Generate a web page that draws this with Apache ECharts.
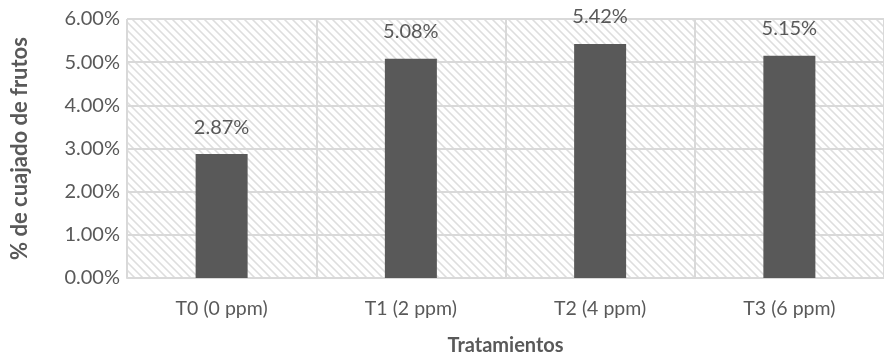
<!DOCTYPE html>
<html>
<head>
<meta charset="utf-8">
<script src="https://cdn.jsdelivr.net/npm/echarts@6/dist/echarts.min.js"></script>
<style>html,body{margin:0;padding:0;background:#fff}#c{width:884px;height:361px}</style>
</head>
<body>
<div id="c"></div>
<script>
const categories = ['T0 (0 ppm)', 'T1 (2 ppm)', 'T2 (4 ppm)', 'T3 (6 ppm)'];
const values = [2.87, 5.08, 5.42, 5.15];
const yTicks = [0, 1, 2, 3, 4, 5, 6];

function hatch() {
  const c = document.createElement('canvas');
  c.width = 8; c.height = 8;
  const g = c.getContext('2d');
  g.fillStyle = '#ffffff'; g.fillRect(0, 0, 8, 8);
  for (let y = 0; y < 8; y++) for (let x = 0; x < 8; x++) {
    const d = ((x - y) % 8 + 8) % 8;
    if (d < 3) { g.fillStyle = d === 1 ? '#dedede' : '#ebebeb'; g.fillRect(x, y, 1, 1); }
  }
  return c;
}

const chart = echarts.init(document.getElementById('c'));
const font = 'Lato';
chart.setOption({
  animation: false,
  grid: {left: 127, top: 19, bottom: 79, right: -8, show: true, borderWidth: 0,
    backgroundColor: {image: hatch(), repeat: 'repeat'}},
  xAxis: {
    type: 'category', data: categories,
    name: 'Tratamientos', nameLocation: 'middle', nameGap: 58,
    nameTextStyle: {fontFamily: font, fontWeight: 'bold', fontSize: 20, color: '#595959'},
    axisLine: {lineStyle: {color: '#d9d9d9', width: 2}},
    axisTick: {show: false},
    axisLabel: {fontFamily: font, fontSize: 19.5, color: '#595959', margin: 21},
    splitLine: {show: true, lineStyle: {color: '#d9d9d9', width: 2}}
  },
  yAxis: {
    type: 'value', min: yTicks[0], max: yTicks[yTicks.length - 1], interval: 1,
    name: '% de cuajado de frutos', nameLocation: 'middle', nameGap: 96,
    nameTextStyle: {fontFamily: font, fontWeight: 'bold', fontSize: 22, color: '#595959'},
    axisLine: {show: false}, axisTick: {show: false},
    axisLabel: {fontFamily: font, fontSize: 20, color: '#595959', margin: 7,
      formatter: v => v.toFixed(2) + '%'},
    splitLine: {lineStyle: {color: '#d9d9d9', width: 2}}
  },
  series: [{
    type: 'bar', data: values, barWidth: 52,
    itemStyle: {color: '#595959'},
    label: {show: true, position: 'top', distance: 17, fontFamily: font, fontSize: 20, color: '#595959',
      formatter: p => p.value.toFixed(2) + '%'}
  }]
});
</script>
</body>
</html>
